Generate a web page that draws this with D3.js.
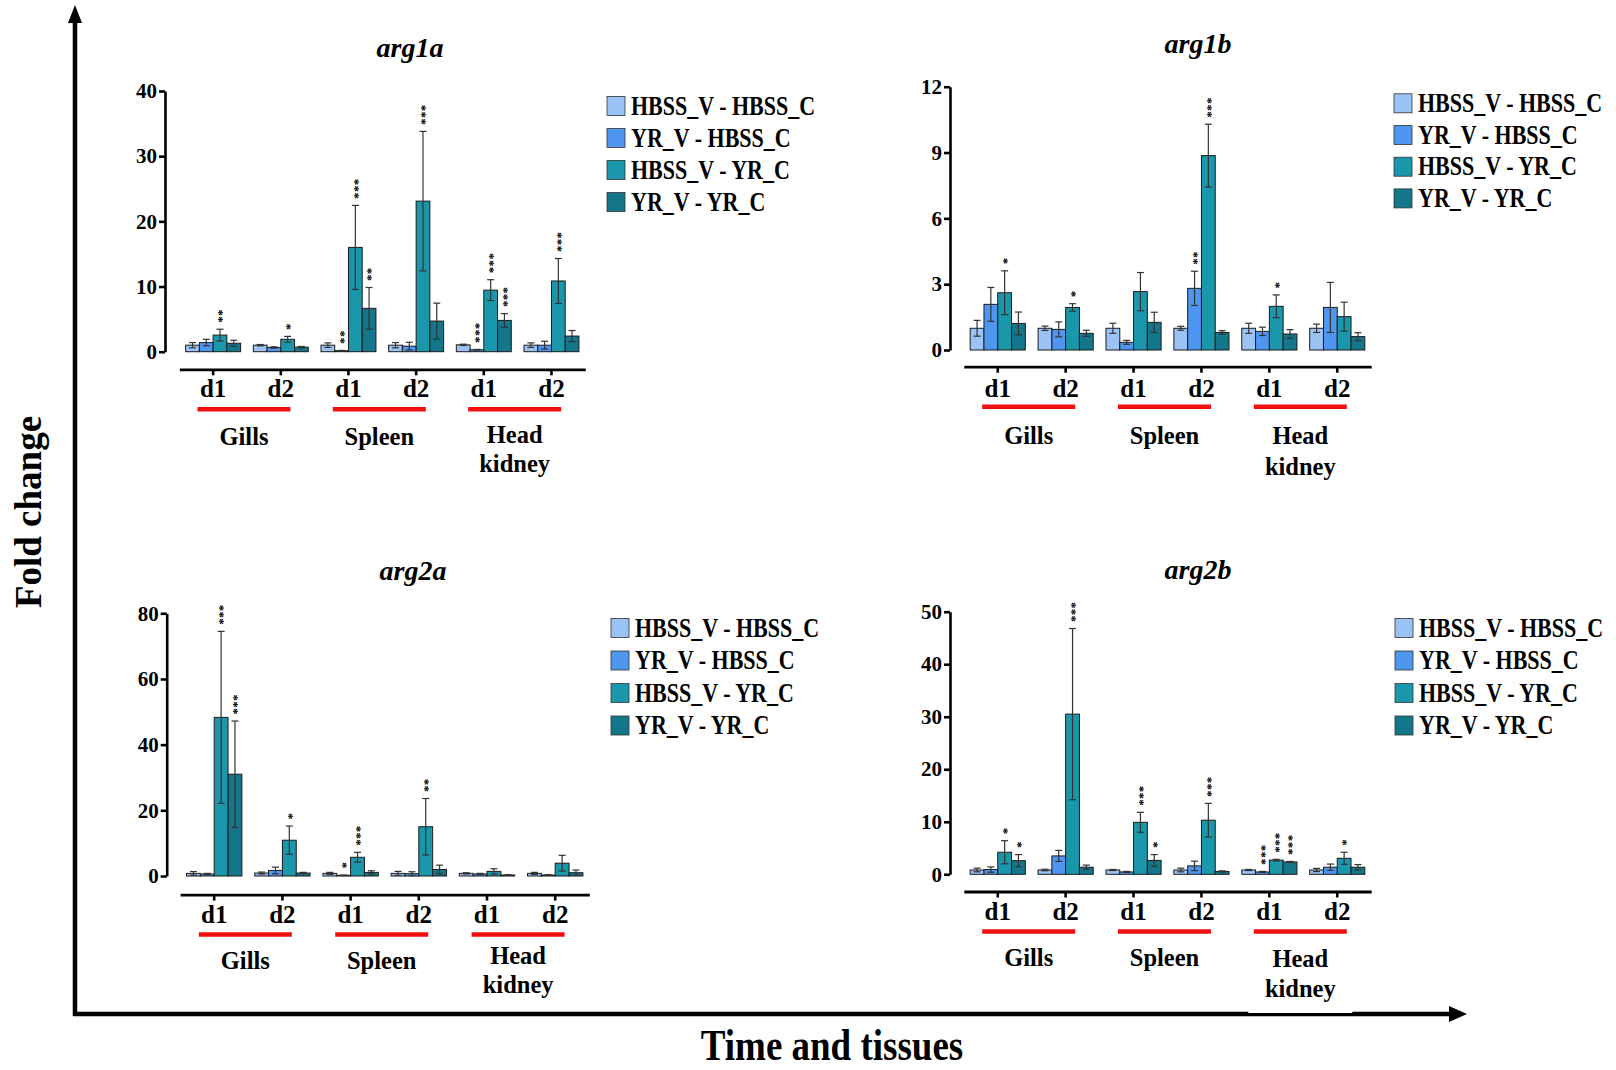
<!DOCTYPE html>
<html>
<head>
<meta charset="utf-8">
<script src="https://cdn.jsdelivr.net/npm/d3@7"></script>
<style>
  body { margin: 0; background: #fff; }
  svg { display: block; }
</style>
</head>
<body>
<svg id="chart" width="1616" height="1070"></svg>
<script>
// categories
var groups = ['Gills d1', 'Gills d2', 'Spleen d1', 'Spleen d2', 'Head kidney d1', 'Head kidney d2'];
var days = ['d1', 'd2', 'd1', 'd2', 'd1', 'd2'];
var tissues = [['Gills'], ['Spleen'], ['Head', 'kidney']];
var series = ['HBSS_V - HBSS_C', 'YR_V - HBSS_C', 'HBSS_V - YR_C', 'YR_V - YR_C'];
var seriesColors = ['#9cc3f6', '#4f96f1', '#1a97ab', '#13768b'];

// arg1a (rows = series, columns = groups)
var arg1aMean = [
	[1.0, 1.0, 1.0, 1.0, 1.05, 1.0],
	[1.4, 0.65, 0.15, 0.85, 0.3, 1.0],
	[2.55, 1.9, 16.0, 23.1, 9.45, 10.85],
	[1.3, 0.7, 6.65, 4.7, 4.8, 2.4]
];
var arg1aErr = [
	[0.4, 0.1, 0.35, 0.4, 0.1, 0.35],
	[0.5, 0.1, 0.05, 0.6, 0.05, 0.6],
	[0.9, 0.45, 6.45, 10.7, 1.6, 3.45],
	[0.45, 0.1, 3.2, 2.75, 1.05, 0.85]
];
var arg1aSig = [
	['', '', '', '', '', ''],
	['', '', '**', '', '***', ''],
	['**', '*', '***', '***', '***', '***'],
	['', '', '**', '', '***', '']
];
var arg1aTicks = [0, 10, 20, 30, 40];

// arg1b
var arg1bMean = [
	[0.99, 0.99, 0.99, 0.99, 0.99, 0.99],
	[2.08, 0.94, 0.35, 2.81, 0.85, 1.94],
	[2.61, 1.94, 2.66, 8.86, 1.99, 1.52],
	[1.21, 0.76, 1.26, 0.8, 0.73, 0.61]
];
var arg1bErr = [
	[0.36, 0.1, 0.23, 0.09, 0.23, 0.19],
	[0.77, 0.34, 0.09, 0.78, 0.19, 1.14],
	[1.0, 0.17, 0.87, 1.43, 0.52, 0.66],
	[0.52, 0.14, 0.46, 0.08, 0.2, 0.18]
];
var arg1bSig = [
	['', '', '', '', '', ''],
	['', '', '', '**', '', ''],
	['*', '*', '', '***', '*', ''],
	['', '', '', '', '', '']
];
var arg1bTicks = [0, 3, 6, 9, 12];

// arg2a
var arg2aMean = [
	[0.8, 0.9, 0.8, 0.8, 0.8, 0.8],
	[0.6, 1.7, 0.2, 0.7, 0.6, 0.3],
	[48.3, 10.9, 5.7, 15.0, 1.4, 3.9],
	[31.0, 0.9, 1.1, 2.0, 0.3, 1.0]
];
var arg2aErr = [
	[0.55, 0.3, 0.3, 0.6, 0.2, 0.3],
	[0.2, 1.0, 0.1, 0.6, 0.2, 0.1],
	[26.2, 4.3, 1.5, 8.6, 0.8, 2.4],
	[16.2, 0.2, 0.5, 1.3, 0.1, 0.8]
];
var arg2aSig = [
	['', '', '', '', '', ''],
	['', '', '*', '', '', ''],
	['***', '*', '***', '**', '', ''],
	['***', '', '', '', '', '']
];
var arg2aTicks = [0, 20, 40, 60, 80];

// arg2b
var arg2bMean = [
	[0.82, 0.82, 0.82, 0.82, 0.82, 0.82],
	[0.9, 3.5, 0.45, 1.6, 0.45, 1.35],
	[4.2, 30.5, 9.9, 10.3, 2.7, 3.05],
	[2.6, 1.35, 2.65, 0.55, 2.35, 1.35]
];
var arg2bErr = [
	[0.35, 0.15, 0.1, 0.35, 0.1, 0.3],
	[0.5, 1.05, 0.1, 0.9, 0.1, 0.6],
	[2.2, 16.3, 1.9, 3.2, 0.15, 1.15],
	[1.15, 0.4, 1.1, 0.1, 0.1, 0.5]
];
var arg2bSig = [
	['', '', '', '', '', ''],
	['', '', '', '', '***', ''],
	['*', '***', '***', '***', '***', '*'],
	['*', '', '*', '', '***', '']
];
var arg2bTicks = [0, 10, 20, 30, 40, 50];

var serif = '"Liberation Serif", "Times New Roman", serif';

// panel layout
var panels = [
	{ title: 'arg1a', mean: arg1aMean, err: arg1aErr, sig: arg1aSig, ticks: arg1aTicks,
		axisX: 165, y0: 351.7, yTop: 91, xr: [179.3, 585.3], xAxisY: 369.3,
		tx: 410, ty: 57, lx: 607, ly: 106, ls: 32, tisOff: 75.7, headOff: 73.7, kidOff: 102.4, dOff: 27.5 },
	{ title: 'arg1b', mean: arg1bMean, err: arg1bErr, sig: arg1bSig, ticks: arg1bTicks,
		axisX: 950, y0: 350, yTop: 86.7, xr: [963.8, 1371.2], xAxisY: 366.7,
		tx: 1198, ty: 53, lx: 1394, ly: 103.3, ls: 31.7, tisOff: 77.3, headOff: 77.3, kidOff: 108.3, dOff: 30 },
	{ title: 'arg2a', mean: arg2aMean, err: arg2aErr, sig: arg2aSig, ticks: arg2aTicks,
		axisX: 166.7, y0: 876, yTop: 613.3, xr: [180.1, 589.3], xAxisY: 894.6,
		tx: 413, ty: 580, lx: 611, ly: 628, ls: 32.5, tisOff: 74.5, headOff: 69.4, kidOff: 98.4, dOff: 28 },
	{ title: 'arg2b', mean: arg2bMean, err: arg2bErr, sig: arg2bSig, ticks: arg2bTicks,
		axisX: 950, y0: 874.3, yTop: 611.7, xr: [963.8, 1371.2], xAxisY: 891.5,
		tx: 1198, ty: 579, lx: 1395, ly: 628, ls: 32.5, tisOff: 74.5, headOff: 75, kidOff: 105.5, dOff: 28 }
];

var svg = d3.select('svg#chart');

// text with optional vertical stretch (the figure's lettering is tall and narrow)
function label(parent, x, y, txt, size, sy, anchor) {
	return parent.append('text')
		.attr('transform', 'translate(' + x + ',' + y + ') scale(1,' + (sy || 1) + ')')
		.attr('text-anchor', anchor || 'start')
		.style('font-family', serif)
		.style('font-weight', 'bold')
		.style('font-size', size + 'px')
		.text(txt);
}

// big axes (arrows)
svg.append('line')
	.attr('x1', 75).attr('y1', 1016).attr('x2', 75).attr('y2', 20)
	.style('stroke', '#000').style('stroke-width', 4.5);
svg.append('path')
	.attr('d', 'M75,5 L68,23 L82,23 Z')
	.style('fill', '#000');
svg.append('line')
	.attr('x1', 73).attr('y1', 1014).attr('x2', 1452).attr('y2', 1014)
	.style('stroke', '#000').style('stroke-width', 4.5);
svg.append('path')
	.attr('d', 'M1467,1014 L1449,1006 L1449,1022 Z')
	.style('fill', '#000');

panels.forEach(function(p) {
	var g = svg.append('g');

	var y = d3.scaleLinear()
		.domain([0, d3.max(p.ticks)])
		.range([p.y0, p.yTop]);

	var x = d3.scaleBand()
		.domain(groups)
		.range(p.xr)
		.paddingInner(0.188)
		.paddingOuter(0.094);

	var xSub = d3.scaleBand()
		.domain(series)
		.range([0, x.bandwidth()]);

	// flatten the panel's arrays into bar records
	var bars = [];
	series.forEach(function(s, si) {
		groups.forEach(function(gr, gi) {
			bars.push({ s: s, si: si, g: gr, v: p.mean[si][gi], e: p.err[si][gi], sig: p.sig[si][gi] });
		});
	});

	// bars
	g.selectAll('rect.bar')
		.data(bars)
		.enter()
		.append('rect')
		.attr('class', 'bar')
		.attr('x', function(d) { return x(d.g) + xSub(d.s); })
		.attr('y', function(d) { return y(d.v); })
		.attr('width', xSub.bandwidth())
		.attr('height', function(d) { return y(0) - y(d.v); })
		.style('fill', function(d) { return seriesColors[d.si]; })
		.style('stroke', '#1b1b1b')
		.style('stroke-width', 1);

	// error bars
	var eb = g.selectAll('g.err')
		.data(bars)
		.enter()
		.append('g')
		.attr('class', 'err')
		.attr('transform', function(d) {
			return 'translate(' + (x(d.g) + xSub(d.s) + xSub.bandwidth() / 2) + ',0)';
		});
	eb.append('line')
		.attr('x1', 0).attr('x2', 0)
		.attr('y1', function(d) { return y(Math.max(0, d.v - d.e)); })
		.attr('y2', function(d) { return y(d.v + d.e); })
		.style('stroke', '#333').style('stroke-width', 1.2);
	eb.append('line')
		.attr('x1', -3.5).attr('x2', 3.5)
		.attr('y1', function(d) { return y(d.v + d.e); })
		.attr('y2', function(d) { return y(d.v + d.e); })
		.style('stroke', '#333').style('stroke-width', 1.2);
	eb.append('line')
		.attr('x1', -3.5).attr('x2', 3.5)
		.attr('y1', function(d) { return y(Math.max(0, d.v - d.e)); })
		.attr('y2', function(d) { return y(Math.max(0, d.v - d.e)); })
		.style('stroke', '#333').style('stroke-width', 1.2);

	// significance asterisks: one string, turned upright so the stars stack
	eb.filter(function(d) { return d.sig.length > 0; })
		.append('text')
		.attr('transform', function(d) {
			return 'translate(0,' + (y(d.v + d.e) - 6.5) + ') rotate(-90)';
		})
		.attr('x', 0)
		.attr('y', 6.3)
		.attr('text-anchor', 'start')
		.style('font-family', serif)
		.style('font-weight', 'bold')
		.style('font-size', '13px')
		.style('letter-spacing', '0.3px')
		.style('fill', '#000')
		.text(function(d) { return d.sig; });

	// y axis
	var yAxis = d3.axisLeft(y)
		.tickValues(p.ticks)
		.tickSize(6)
		.tickSizeOuter(0)
		.tickPadding(2);
	var ya = g.append('g')
		.attr('transform', 'translate(' + p.axisX + ',0)')
		.call(yAxis);
	ya.select('.domain').style('stroke', '#000').style('stroke-width', 2.6);
	ya.selectAll('.tick line').style('stroke', '#000').style('stroke-width', 2.6);
	ya.selectAll('.tick text')
		.style('font-family', serif)
		.style('font-weight', 'bold')
		.style('font-size', '21px')
		.style('fill', '#000');

	// x axis (offset below the zero line)
	var xAxis = d3.axisBottom(x)
		.tickSize(6)
		.tickSizeOuter(0)
		.tickFormat(function(d) { return days[groups.indexOf(d)]; });
	var xa = g.append('g')
		.attr('transform', 'translate(0,' + p.xAxisY + ')')
		.call(xAxis);
	xa.select('.domain').style('stroke', '#000').style('stroke-width', 2.8);
	xa.selectAll('.tick line').style('stroke', '#000').style('stroke-width', 2.6);
	xa.selectAll('.tick text')
		.attr('y', p.dOff)
		.attr('dy', null)
		.style('font-family', serif)
		.style('font-weight', 'bold')
		.style('font-size', '25px')
		.style('fill', '#000');

	// tissue brackets and names
	tissues.forEach(function(t, ti) {
		var c1 = x(groups[ti * 2]) + x.bandwidth() / 2;
		var c2 = x(groups[ti * 2 + 1]) + x.bandwidth() / 2;
		var cx = (c1 + c2) / 2 - 3;
		g.append('line')
			.attr('x1', cx - 46.5).attr('x2', cx + 46.5)
			.attr('y1', p.xAxisY + 40).attr('y2', p.xAxisY + 40)
			.style('stroke', '#f00e0e').style('stroke-width', 4.5);
		if (t.length === 1) {
			label(g, cx, p.xAxisY + p.tisOff, t[0], 24.5, 1, 'middle');
		} else {
			if (p.title === 'arg2b') {
				// white patch behind the label as in the source figure
				g.append('rect')
					.attr('x', cx - 52).attr('y', p.xAxisY + p.headOff + 6)
					.attr('width', 104).attr('height', 1013 - (p.xAxisY + p.headOff + 6))
					.style('fill', '#fff');
			}
			label(g, cx, p.xAxisY + p.headOff, t[0], 24.5, 1, 'middle');
			label(g, cx, p.xAxisY + p.kidOff, t[1], 24.5, 1, 'middle');
		}
	});

	// title
	g.append('text')
		.attr('x', p.tx)
		.attr('y', p.ty)
		.attr('text-anchor', 'middle')
		.style('font-family', serif)
		.style('font-weight', 'bold')
		.style('font-style', 'italic')
		.style('font-size', '28px')
		.text(p.title);

	// legend
	var lg = g.selectAll('g.legend')
		.data(series)
		.enter()
		.append('g')
		.attr('class', 'legend')
		.attr('transform', function(d, i) {
			return 'translate(' + p.lx + ',' + (p.ly + i * p.ls) + ')';
		});
	lg.append('rect')
		.attr('x', 0).attr('y', -9.5)
		.attr('width', 18).attr('height', 19)
		.style('fill', function(d, i) { return seriesColors[i]; })
		.style('stroke', '#333')
		.style('stroke-width', 0.8);
	lg.each(function(d) {
		label(d3.select(this), 24, 8.5, d, 22, 1.2, 'start');
	});
});

// axis titles
svg.append('text')
	.attr('transform', 'translate(41,512) rotate(-90)')
	.attr('text-anchor', 'middle')
	.style('font-family', serif)
	.style('font-weight', 'bold')
	.style('font-size', '37px')
	.text('Fold change');

label(svg, 832, 1060, 'Time and tissues', 37, 1.2, 'middle');
</script>
</body>
</html>
